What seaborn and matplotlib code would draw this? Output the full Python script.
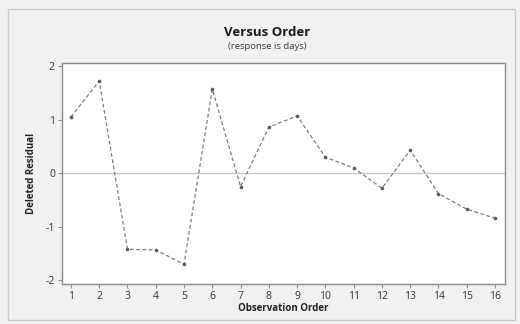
import matplotlib
matplotlib.use("Agg")
import matplotlib.pyplot as plt
from matplotlib.patches import Rectangle
import seaborn as sns
import pandas as pd

# Deleted residuals in observation order
order = list(range(1, 17))
residuals = [1.05, 1.72, -1.42, -1.43, -1.70, 1.57, -0.25, 0.86,
             1.07, 0.30, 0.10, -0.28, 0.43, -0.38, -0.67, -0.84]
y_ticks = [-2, -1, 0, 1, 2]

df = pd.DataFrame({"Observation Order": order, "Deleted Residual": residuals})

sns.set_style("white")
plt.rcParams["font.family"] = ["Open Sans", "DejaVu Sans"]

fig = plt.figure(figsize=(5.2, 3.24), dpi=100)
fig.patch.set_facecolor("#f1f1f1")
# outer panel border
fig.add_artist(Rectangle((0.015, 0.012), 0.975, 0.96, transform=fig.transFigure,
                         fill=False, edgecolor="#c9c9c9", linewidth=1.0))

ax = fig.add_axes([0.119, 0.123, 0.852, 0.683])
ax.set_facecolor("white")

ax.axhline(0, color="#c8c8c8", linewidth=1.0, zorder=1)
sns.lineplot(data=df, x="Observation Order", y="Deleted Residual", ax=ax,
             color="#7c7c7c", linewidth=0.9, linestyle=(0, (3, 2)),
             marker="o", markersize=2.6, markeredgewidth=0,
             markerfacecolor="#5a5a5a", zorder=3)

ax.set_xlim(0.68, 16.35)
ax.set_ylim(-2.07, 2.06)
ax.set_xticks(order)
ax.set_yticks(y_ticks)
ax.set_yticklabels([str(v).replace("\u2212", "-") for v in y_ticks])

for s in ax.spines.values():
    s.set_color("#8a8a8a")
    s.set_linewidth(1.0)

ax.tick_params(axis="both", direction="out", length=3, width=0.8,
               color="#8a8a8a", labelsize=7.5, labelcolor="#333333", pad=2)
ax.tick_params(axis="x", bottom=True)
ax.tick_params(axis="y", left=True)

ax.set_xlabel("Observation Order", fontsize=7, fontweight="bold",
              color="#222222", labelpad=1)
ax.set_ylabel("Deleted Residual", fontsize=7, fontweight="bold",
              color="#222222", labelpad=6)

fig.text(0.514, 0.900, "Versus Order", ha="center", va="center",
         fontsize=9.5, fontweight="bold", color="#1a1a1a")
fig.text(0.514, 0.855, "(response is days)", ha="center", va="center",
         fontsize=6.8, color="#333333")

fig.savefig("out.png", dpi=100, facecolor=fig.get_facecolor())
